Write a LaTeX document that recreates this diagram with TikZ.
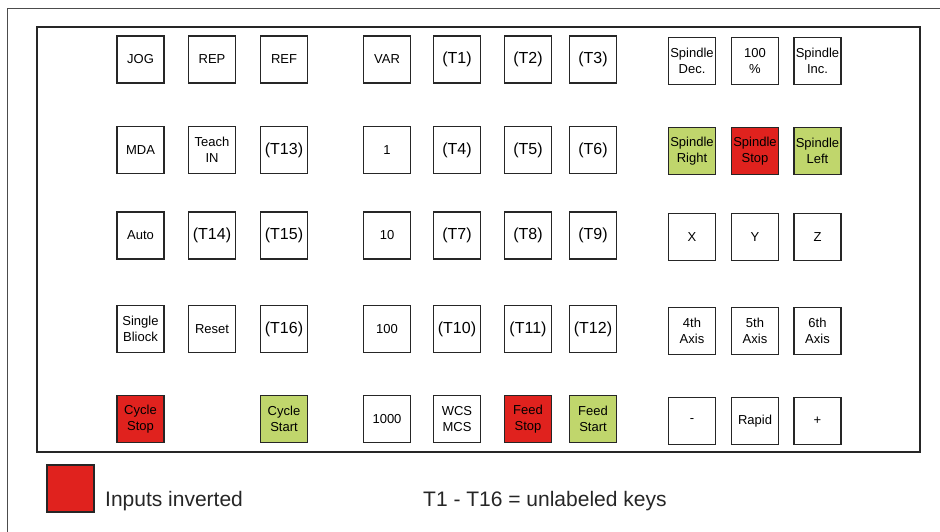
\documentclass[tikz,border=0pt]{standalone}
\usepackage{fontspec}
\setmainfont{Liberation Sans}
\definecolor{keyred}{RGB}{224,34,30}
\definecolor{keygreen}{RGB}{192,214,108}
\definecolor{keyline}{RGB}{38,38,38}
\begin{document}
\begin{tikzpicture}[x=1pt,y=-1pt,
  key/.style={draw=keyline,line width=1.4pt,minimum width=47pt,minimum height=47pt,inner sep=0pt,align=center,
    font=\fontsize{13}{15.5}\selectfont},
  tkey/.style={key,font=\fontsize{16}{19}\selectfont},
  redkey/.style={key,fill=keyred},
  greenkey/.style={key,fill=keygreen},
  legend/.style={inner sep=0pt,anchor=base west,font=\fontsize{21}{25}\selectfont,text=black!85}]
\useasboundingbox (0,0) rectangle (940,532);
\draw[line width=1pt,black!70] (7,532) -- (7,9) -- (940,9);
\draw[line width=1.5pt,keyline] (37,27) rectangle (920,452);
% row 1
\node[key] (jog) at (140.5,59.5) {JOG};
\node[key] (rep) at (212,59.5) {REP};
\node[key] (ref) at (284,59.5) {REF};
\node[key] (var) at (387,59.5) {VAR};
\node[tkey] (t1) at (457,59.5) {(T1)};
\node[tkey] (t2) at (528,59.5) {(T2)};
\node[tkey] (t3) at (593,59.5) {(T3)};
\node[key] (sdec) at (692,61) {Spindle\\Dec.};
\node[key] (s100) at (755,61) {100\\\%};
\node[key] (sinc) at (817.5,61) {Spindle\\Inc.};
% row 2
\node[key] (mda) at (140.5,150) {MDA};
\node[key] (teach) at (212,150) {Teach\\IN};
\node[tkey] (t13) at (284,150) {(T13)};
\node[key] (one) at (387,150) {1};
\node[tkey] (t4) at (457,150) {(T4)};
\node[tkey] (t5) at (528,150) {(T5)};
\node[tkey] (t6) at (593,150) {(T6)};
\node[greenkey] (sright) at (692,151) {Spindle\\Right};
\node[redkey] (sstop) at (755,151) {Spindle\\Stop};
\node[greenkey] (sleft) at (817.5,151) {Spindle\\Left};
% row 3
\node[key] (auto) at (140.5,235.5) {Auto};
\node[tkey] (t14) at (212,235.5) {(T14)};
\node[tkey] (t15) at (284,235.5) {(T15)};
\node[key] (ten) at (387,235.5) {10};
\node[tkey] (t7) at (457,235.5) {(T7)};
\node[tkey] (t8) at (528,235.5) {(T8)};
\node[tkey] (t9) at (593,235.5) {(T9)};
\node[key] (x) at (692,237) {X};
\node[key] (y) at (755,237) {Y};
\node[key] (z) at (817.5,237) {Z};
% row 4
\node[key] (single) at (140.5,329) {Single\\Bliock};
\node[key] (reset) at (212,329) {Reset};
\node[tkey] (t16) at (284,329) {(T16)};
\node[key] (hundred) at (387,329) {100};
\node[tkey] (t10) at (457,329) {(T10)};
\node[tkey] (t11) at (528,329) {(T11)};
\node[tkey] (t12) at (593,329) {(T12)};
\node[key] (a4) at (692,331) {4th\\Axis};
\node[key] (a5) at (755,331) {5th\\Axis};
\node[key] (a6) at (817.5,331) {6th\\Axis};
% row 5
\node[redkey] (cstop) at (140.5,419) {Cycle\\Stop};
\node[greenkey] (cstart) at (284,419) {Cycle\\Start};
\node[key] (thousand) at (387,419) {1000};
\node[key] (wcs) at (457,419) {WCS\\MCS};
\node[redkey] (fstop) at (528,419) {Feed\\Stop};
\node[greenkey] (fstart) at (593,419) {Feed\\Start};
\node[key] (minus) at (692,421) {-};
\node[key] (rapid) at (755,421) {Rapid};
\node[key] (plus) at (817.5,421) {+};
% legend
\node[redkey,minimum width=47pt,minimum height=47pt] (legsq) at (70.5,488.5) {};
\node[legend] (leginv) at (105,506.5) {Inputs inverted};
\node[legend] (legt) at (423,506.5) {T1 - T16 = unlabeled keys};
\end{tikzpicture}
\end{document}
